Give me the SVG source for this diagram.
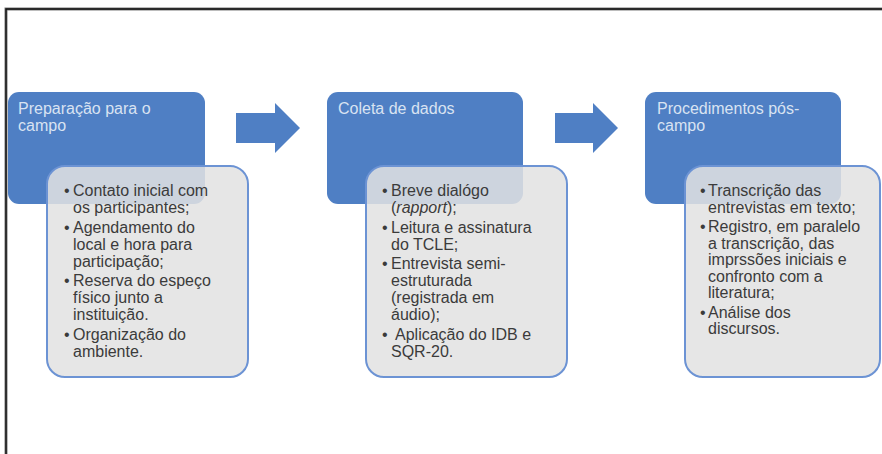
<svg xmlns="http://www.w3.org/2000/svg" width="882" height="454" viewBox="0 0 882 454">
<style>
.blue{fill:#4f7fc4}
.card{fill:#e2e2e2;fill-opacity:0.86;stroke:#6c93d4;stroke-width:2}
.title{font-family:"Liberation Sans",Arial,sans-serif;font-size:16px;fill:#d9e3f2}
.body{font-family:"Liberation Sans",Arial,sans-serif;font-size:16px;fill:#3b3b3b}
.arrow{fill:#4f7fc4}
</style>
<rect x="0" y="0" width="882" height="454" fill="#ffffff"/>
<path d="M6 454 V9 H882" fill="none" stroke="#7a7a7a" stroke-width="3"/>
<path d="M6 454 V9 H882" fill="none" stroke="#111" stroke-width="1.4"/>
<g id="connectors">
<polygon class="arrow" points="236,113 275,113 275,103 300,128 275,153 275,143 236,143"/>
<polygon class="arrow" points="555,113 593,113 593,103 618,128 593,153 593,143 555,143"/>
</g>
<g id="node1">
<rect class="blue" x="8" y="92" width="197" height="112" rx="11"/>
<text class="title" x="18" y="114">Preparação para o</text>
<text class="title" x="18" y="131">campo</text>
<rect class="card" x="47" y="166" width="201" height="211" rx="18"/>
<g class="body">
<text x="64" y="196">•</text><text x="73" y="196">Contato inicial com</text>
<text x="73" y="213">os participantes;</text>
<text x="64" y="232.5">•</text><text x="73" y="232.5">Agendamento do</text>
<text x="73" y="249.5">local e hora para</text>
<text x="73" y="266.5">participação;</text>
<text x="64" y="286">•</text><text x="73" y="286">Reserva do espeço</text>
<text x="73" y="303">físico junto a</text>
<text x="73" y="320">instituição.</text>
<text x="64" y="339.5">•</text><text x="73" y="339.5">Organização do</text>
<text x="73" y="356.5">ambiente.</text>
</g>
</g>
<g id="node2">
<rect class="blue" x="327" y="92" width="196" height="112" rx="11"/>
<text class="title" x="338" y="114">Coleta de dados</text>
<rect class="card" x="366" y="166" width="201" height="211" rx="18"/>
<g class="body">
<text x="382" y="196">•</text><text x="391" y="196">Breve dialógo</text>
<text x="391" y="213">(<tspan font-style="italic">rapport</tspan>);</text>
<text x="382" y="232.5">•</text><text x="391" y="232.5">Leitura e assinatura</text>
<text x="391" y="249.5">do TCLE;</text>
<text x="382" y="269">•</text><text x="391" y="269">Entrevista semi-</text>
<text x="391" y="286">estruturada</text>
<text x="391" y="303">(registrada em</text>
<text x="391" y="320">áudio);</text>
<text x="382" y="339.5">•</text><text x="395" y="339.5">Aplicação do IDB e</text>
<text x="391" y="356.5">SQR-20.</text>
</g>
</g>
<g id="node3">
<rect class="blue" x="645" y="92" width="196" height="112" rx="11"/>
<text class="title" x="657" y="114">Procedimentos pós-</text>
<text class="title" x="657" y="131">campo</text>
<rect class="card" x="685" y="166" width="195" height="211" rx="18"/>
<g class="body">
<text x="700" y="196">•</text><text x="708" y="196">Transcrição das</text>
<text x="708" y="213">entrevistas em texto;</text>
<text x="700" y="232">•</text><text x="708" y="232">Registro, em paralelo</text>
<text x="708" y="248.5">a transcrição, das</text>
<text x="708" y="265">imprssões iniciais e</text>
<text x="708" y="281.5">confronto com a</text>
<text x="708" y="298">literatura;</text>
<text x="700" y="317.5">•</text><text x="708" y="317.5">Análise dos</text>
<text x="708" y="334">discursos.</text>
</g>
</g>
</svg>
